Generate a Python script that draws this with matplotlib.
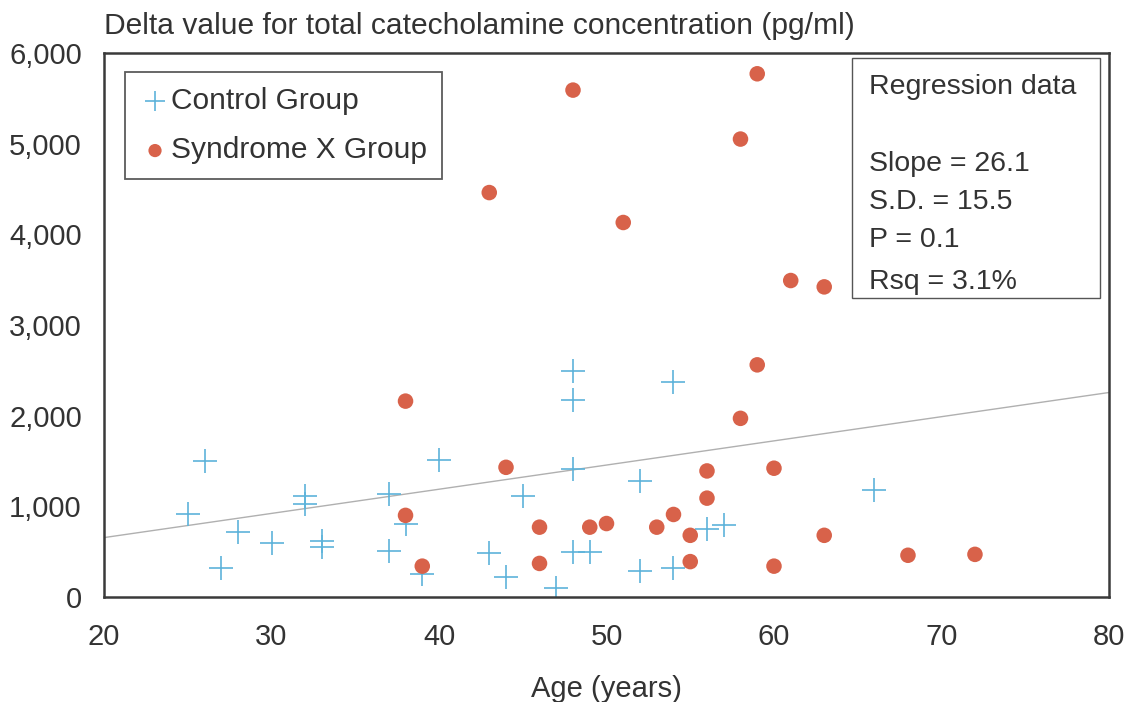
import numpy as np
import matplotlib.pyplot as plt
from matplotlib.patches import Rectangle

plt.rcParams["font.family"] = ["Liberation Sans", "DejaVu Sans"]

control_age = [26, 25, 27, 28, 30, 32, 32, 33, 33, 37, 37, 38, 39, 40,
               48, 48, 54, 48, 45, 52, 43, 44, 47, 48, 49, 52, 54, 56, 57, 66]
control_delta = [1500, 920, 320, 720, 600, 1110, 1030, 620, 550, 1140, 510, 810, 250, 1510,
                 2490, 2170, 2370, 1410, 1110, 1280, 480, 220, 100, 500, 500, 290, 320, 750, 790, 1180]

syndrome_age = [38, 38, 39, 59, 58, 44, 56, 60, 56, 54, 46, 49, 50, 53, 55, 46, 55, 60,
                63, 68, 72, 59, 48, 58, 43, 51, 61, 63]
syndrome_delta = [2160, 900, 340, 2560, 1970, 1430, 1390, 1420, 1090, 910, 770, 770, 810, 770, 680, 370, 390, 340,
                  680, 460, 470, 5770, 5590, 5050, 4460, 4130, 3490, 3420]

reg_age = [20, 80]
reg_delta = [655, 2255]

reg_lines = ["Slope = 26.1", "S.D. = 15.5", "P = 0.1", "Rsq = 3.1%"]

text_color = "#333333"
plus_color = "#5db3da"
dot_color = "#d8624a"

fig = plt.figure(figsize=(11.31, 7.02), dpi=100)
ax = fig.add_axes([0.092, 0.1496, 0.8885, 0.775])

ax.plot(reg_age, reg_delta, color="#b0b0b0", lw=1.0, zorder=1)
ax.scatter(control_age, control_delta, marker="+", s=300, linewidths=1.2,
           c=plus_color, label="Control Group", zorder=2)
ax.scatter(syndrome_age, syndrome_delta, marker="o", s=125, c=dot_color,
           edgecolors="none", label="Syndrome X Group", zorder=3)

ax.set_xlim(20, 80)
ax.set_ylim(0, 6000)
ax.set_xticks(np.arange(20, 81, 10))
ax.set_yticks(np.arange(0, 6001, 1000))
ax.set_yticklabels([f"{v:,}" for v in range(0, 6001, 1000)])
ax.tick_params(length=0, labelsize=21, labelcolor=text_color)
ax.tick_params(axis="x", pad=19)
ax.tick_params(axis="y", pad=16)
for sp in ax.spines.values():
    sp.set_color("#3a3a3a")
    sp.set_linewidth(1.8)

ax.set_xlabel("Age (years)", fontsize=21, color=text_color, labelpad=17)
ax.text(0.0, 1.024, "Delta value for total catecholamine concentration (pg/ml)",
        transform=ax.transAxes, fontsize=21.6, color=text_color, ha="left", va="bottom")

leg = ax.legend(loc="upper left", bbox_to_anchor=(0.021, 0.965), borderaxespad=0,
                fontsize=21.5, frameon=True, fancybox=False, handletextpad=0.05,
                handlelength=1.0, labelspacing=0.72, borderpad=0.5,
                markerscale=0.85)
leg.get_frame().set_edgecolor("#333333")
leg.get_frame().set_linewidth(1.3)
for t in leg.get_texts():
    t.set_color(text_color)

ax.add_patch(Rectangle((0.744, 0.5496), 0.247, 0.4414, transform=ax.transAxes,
                       fill=False, edgecolor="#555555", lw=1.0, zorder=4))
ax.text(0.761, 0.937, "Regression data", transform=ax.transAxes, fontsize=20.5,
        color=text_color, va="center", ha="left")
for yy, line in zip([0.796, 0.726, 0.656, 0.579], reg_lines):
    ax.text(0.761, yy, line, transform=ax.transAxes, fontsize=20.5,
            color=text_color, va="center", ha="left")

fig.savefig("out.png", dpi=100)
